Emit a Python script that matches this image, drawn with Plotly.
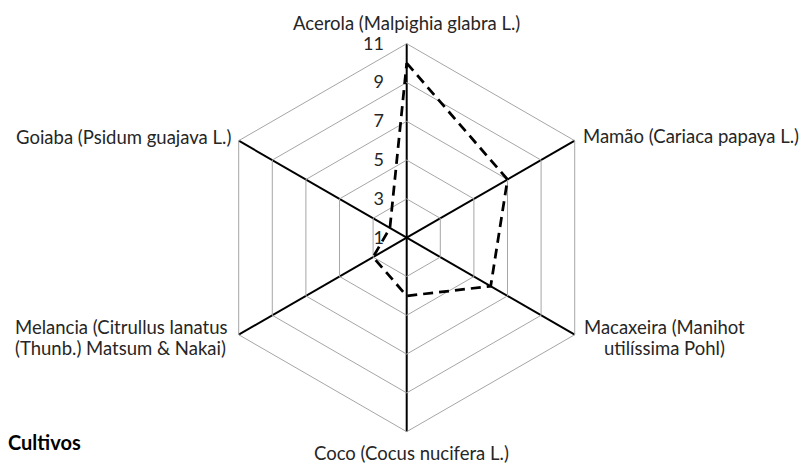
import math
import plotly.graph_objects as go

categories = [
    "Acerola (Malpighia glabra L.)",
    "Mamão (Cariaca papaya L.)",
    "Macaxeira (Manihot<br>utilíssima Pohl)",
    "Coco (Cocus nucifera L.)",
    "Melancia (Citrullus lanatus<br>(Thunb.) Matsum & Nakai)",
    "Goiaba (Psidum guajava L.)",
]
values = [10, 7, 6, 4, 3, 2]
series_name = "Cultivos"
radial_ticks = [1, 3, 5, 7, 9, 11]

W, H = 805, 464
cx, cy, R = 406.7, 237.7, 194.0

fig = go.Figure()
fig.add_trace(go.Scatterpolar(
    r=values + values[:1],
    theta=categories + categories[:1],
    mode="lines",
    line=dict(color="black", width=2.75, dash="10px,6px"),
    name=series_name,
    showlegend=False,
    hoverinfo="skip",
))

FONT = "Lato"
TXT = "#262626"
FS = 18.5

# label placement (pixel offsets from each hexagon vertex), layout only
label_layout = [
    dict(dx=0, dy=-21, xanchor="center"),
    dict(dx=6, dy=-4.5, xanchor="left"),
    dict(dx=90, dy=-8, xanchor="center"),
    dict(dx=5, dy=21, xanchor="center"),
    dict(dx=-118, dy=-8, xanchor="center"),
    dict(dx=-6, dy=-4, xanchor="right"),
]
LINE_GAP = 21

annotations = []
for i, (cat, lay) in enumerate(zip(categories, label_layout)):
    ang = math.radians(90 - 60 * i)
    vx = cx + R * math.cos(ang)
    vy = cy - R * math.sin(ang)
    for j, line in enumerate(cat.split("<br>")):
        px = vx + lay["dx"]
        py = vy + lay["dy"] + j * LINE_GAP
        annotations.append(dict(
            text=line, x=px / W, y=1 - py / H, xref="paper", yref="paper",
            xanchor=lay["xanchor"], yanchor="middle", showarrow=False,
            font=dict(size=FS, family=FONT, color=TXT),
        ))

annotations.append(dict(
    text="<b>" + series_name + "</b>", x=6 / W, y=1 - 442 / H,
    xref="paper", yref="paper", xanchor="left", yanchor="middle",
    showarrow=False, font=dict(size=20, family=FONT, color="black"),
))

fig.update_layout(
    width=W, height=H,
    margin=dict(l=0, r=0, t=0, b=0),
    paper_bgcolor="white",
    plot_bgcolor="white",
    font=dict(family=FONT, size=FS, color=TXT),
    polar=dict(
        domain=dict(x=[(cx - R) / W, (cx + R) / W],
                    y=[(H - cy - R) / H, (H - cy + R) / H]),
        gridshape="linear",
        bgcolor="white",
        angularaxis=dict(
            rotation=90, direction="clockwise",
            showgrid=True, gridcolor="black", gridwidth=2,
            showline=True, linecolor="#a6a6a6", linewidth=1,
            ticks="", showticklabels=False,
        ),
        radialaxis=dict(
            range=[1, 11], tickvals=radial_ticks, ticktext=[str(t) for t in radial_ticks],
            angle=90, tickangle=90, side="counterclockwise",
            showline=False, ticks="outside", ticklen=16, tickcolor="rgba(0,0,0,0)",
            gridcolor="#a6a6a6", gridwidth=1,
            tickfont=dict(size=18, family=FONT, color=TXT),
        ),
    ),
    annotations=annotations,
)

fig.write_html("out.html", config={"displayModeBar": False},
               post_script="document.body.style.margin='0';")
